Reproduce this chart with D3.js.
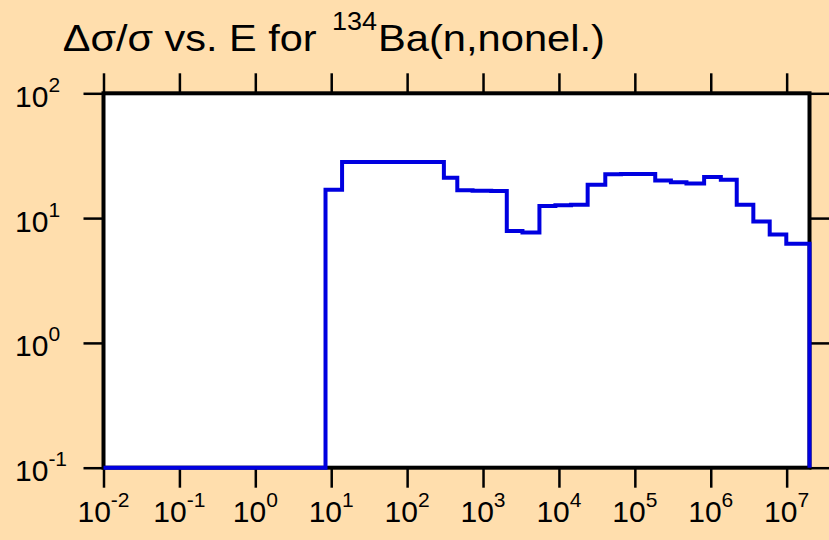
<!DOCTYPE html>
<html><head><meta charset="utf-8">
<script src="https://cdn.jsdelivr.net/npm/d3@7"></script>
<style>
html,body{margin:0;padding:0;background:#ffdead;}
svg{display:block;font-family:"Liberation Sans",Arial,Helvetica,sans-serif;}
</style></head>
<body>
<svg id="chart" width="829" height="540"></svg>
<script>
// Energy bin edges (eV) and relative uncertainty per bin (%)
const binEdges = [0.01, 8.41, 13.9, 305, 458, 728, 1282, 2056, 3307, 5534, 8980, 14450, 23900, 40800, 65700, 185600, 298500, 478600, 818000, 1.358e6, 2.2e6, 3.64e6, 5.98e6, 9.89e6, 2e7];
const binValues = [0.1, 16.9, 28.1, 21.1, 16.7, 16.6, 16.5, 7.9, 7.67, 12.5, 12.7, 12.8, 18.5, 22.5, 22.6, 20.0, 19.4, 18.9, 21.3, 20.3, 12.8, 9.39, 7.39, 6.23];
const xTickValues = [1e-2, 1e-1, 1e0, 1e1, 1e2, 1e3, 1e4, 1e5, 1e6, 1e7];
const xTickExps = ["-2", "-1", "0", "1", "2", "3", "4", "5", "6", "7"];
const yTickValues = [1e-1, 1e0, 1e1, 1e2];
const yTickExps = ["-1", "0", "1", "2"];
const titleMain = "\u0394\u03c3/\u03c3 vs. E for";
const titleSup = "134";
const titleRest = "Ba(n,nonel.)";

const svg = d3.select("#chart");
const L = 103.5, R = 809.5, T = 93.3, B = 467.7;
const x = d3.scaleLog().domain([1e-2, 2e7]).range([L, R]);
const y = d3.scaleLog().domain([1e-1, 1e2]).range([B, T]);

svg.append("rect").attr("width", 829).attr("height", 540).attr("fill", "#ffdead");
svg.append("rect").attr("x", L).attr("y", T).attr("width", R - L).attr("height", B - T).attr("fill", "#ffffff");

// Axes (ticks only)
function styleAxis(g) {
  g.select(".domain").remove();
  g.selectAll(".tick line").attr("stroke", "#000").attr("stroke-width", 2.5);
  g.selectAll(".tick text").remove();
}
svg.append("g").attr("transform", `translate(0,${B})`)
  .call(d3.axisBottom(x).tickValues(xTickValues).tickSize(20).tickFormat(""))
  .call(styleAxis);
svg.append("g").attr("transform", `translate(0,${T})`)
  .call(d3.axisTop(x).tickValues(xTickValues).tickSize(20).tickFormat(""))
  .call(styleAxis);
svg.append("g").attr("transform", `translate(${L},0)`)
  .call(d3.axisLeft(y).tickValues(yTickValues).tickSize(20).tickFormat(""))
  .call(styleAxis);
svg.append("g").attr("transform", `translate(${R},0)`)
  .call(d3.axisRight(y).tickValues(yTickValues).tickSize(20).tickFormat(""))
  .call(styleAxis);

// Frame
svg.append("rect").attr("x", L).attr("y", T).attr("width", R - L).attr("height", B - T)
  .attr("fill", "none").attr("stroke", "#000").attr("stroke-width", 4);

// Step line
const pts = binValues.map((v, i) => [binEdges[i], v]);
pts.push([binEdges[binEdges.length - 1], binValues[binValues.length - 1]]);
pts.push([binEdges[binEdges.length - 1], 0.1]);
const line = d3.line().x(d => x(d[0])).y(d => y(d[1])).curve(d3.curveStepAfter);
svg.append("path").datum(pts).attr("d", line)
  .attr("fill", "none").attr("stroke", "#0000e0").attr("stroke-width", 4)
  .attr("stroke-linejoin", "miter").attr("stroke-linecap", "butt");

// Bottom tick labels
xTickValues.forEach((v, i) => {
  const t = svg.append("text").attr("x", x(v)).attr("y", 521.7)
    .attr("text-anchor", "middle").attr("fill", "#000").attr("font-size", 30);
  t.append("tspan").text("10");
  t.append("tspan").attr("font-size", 21).attr("dy", -15).text(xTickExps[i]);
});
// Left tick labels
yTickValues.forEach((v, i) => {
  const t = svg.append("text").attr("x", 15).attr("y", y(v) + 13.4)
    .attr("text-anchor", "start").attr("fill", "#000").attr("font-size", 30);
  t.append("tspan").text("10");
  t.append("tspan").attr("font-size", 21).attr("dy", -15).text(yTickExps[i]);
});

// Title
svg.append("text").attr("x", 62.7).attr("y", 50.7).attr("font-size", 37)
  .attr("textLength", 254).attr("lengthAdjust", "spacingAndGlyphs").text(titleMain);
svg.append("text").attr("x", 332).attr("y", 30).attr("font-size", 25)
  .attr("textLength", 45).attr("lengthAdjust", "spacingAndGlyphs").text(titleSup);
svg.append("text").attr("x", 378).attr("y", 50.7).attr("font-size", 37)
  .attr("textLength", 227).attr("lengthAdjust", "spacingAndGlyphs").text(titleRest);
</script>
</body></html>
